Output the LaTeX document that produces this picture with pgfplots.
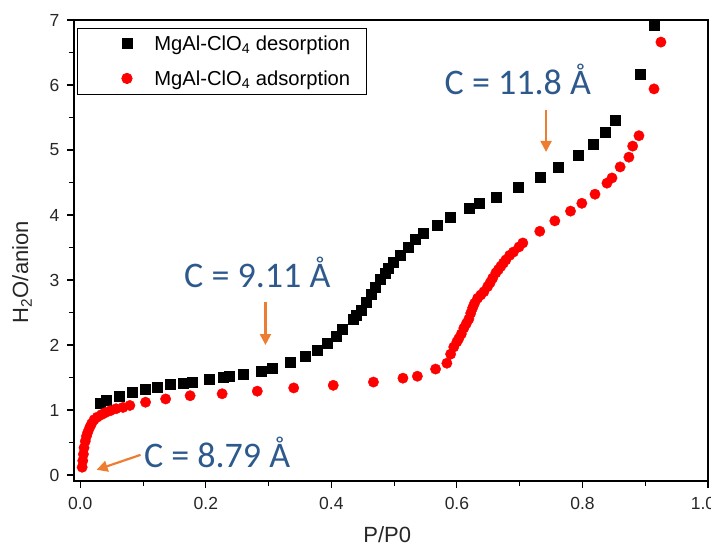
\documentclass[border=0pt]{standalone}
\usepackage{fontspec}
\setmainfont{Liberation Sans}
\newfontfamily\calib{Carlito}
\usepackage{pgfplots}
\pgfplotsset{compat=1.18}
\usetikzlibrary{arrows.meta}
\definecolor{annblue}{RGB}{46,89,140}
\definecolor{annorange}{RGB}{237,125,49}
\begin{document}
\begin{tikzpicture}
\useasboundingbox (-74pt,-68pt) rectangle (637pt,481pt);
\begin{axis}[
  scale only axis, width=634pt, height=461pt,
  at={(0pt,0pt)}, anchor=south west,
  xmin=-0.01, xmax=1.0, ymin=-0.092, ymax=7,
  xtick={0,0.2,0.4,0.6,0.8,1.0}, minor x tick num=1,
  xticklabels={0.0,0.2,0.4,0.6,0.8,{\kern-10pt 1.0}},
  ytick={0,1,2,3,4,5,6,7}, minor y tick num=1,
  tick pos=left, tick align=outside,
  major tick length=7pt, minor tick length=5pt,
  every tick/.style={black, line width=1.1pt},
  axis line style={line width=1.2pt},
  /pgf/number format/assume math mode=true,
  ticklabel style={font=\fontsize{17.5}{21}\selectfont, color=black!85},
  xticklabel style={yshift=-6pt},
  yticklabel style={xshift=-4pt},
  xlabel={P/P0}, ylabel={H\textsubscript{2}O/anion},
  every axis x label/.style={at={(axis description cs:0.494,-0.117)}, anchor=center, font=\fontsize{22}{26}\selectfont, color=black!85},
  every axis y label/.style={at={(axis description cs:-0.082,0.453)}, anchor=center, rotate=90, font=\fontsize{22}{26}\selectfont, color=black!85},
  legend style={at={(axis description cs:0.005,0.983)}, anchor=north west,
    font=\fontsize{20.2}{24}\selectfont, draw=black, line width=0.8pt,
    inner xsep=2pt, inner ysep=5.5pt, row sep=14.5pt, cells={anchor=west}},
  legend image code/.code={\path (0pt,0pt) (72pt,0pt); \draw[#1] plot coordinates {(47pt,0pt)};},
  clip=false,
]
\addplot[only marks, mark=square*, mark size=5pt, color=black] coordinates {
(0.032,1.11) (0.041,1.15) (0.062,1.22) (0.083,1.28) (0.104,1.32) (0.123,1.35)
(0.144,1.40) (0.164,1.42) (0.179,1.43) (0.206,1.48) (0.228,1.51) (0.238,1.52)
(0.260,1.55) (0.289,1.60) (0.306,1.65) (0.335,1.74) (0.359,1.83) (0.378,1.92)
(0.394,2.03) (0.407,2.14) (0.418,2.25) (0.434,2.40) (0.440,2.46) (0.447,2.54)
(0.455,2.66) (0.463,2.78) (0.470,2.89) (0.478,3.02) (0.485,3.11) (0.491,3.18)
(0.499,3.28) (0.509,3.38) (0.522,3.51) (0.533,3.63) (0.547,3.72) (0.569,3.85)
(0.590,3.97) (0.619,4.11) (0.636,4.18) (0.662,4.28) (0.697,4.43) (0.732,4.58)
(0.762,4.74) (0.793,4.92) (0.817,5.09) (0.836,5.28) (0.852,5.46) (0.892,6.17)
(0.914,6.92)
};
\addlegendentry{MgAl-ClO\textsubscript{4} desorption\rule{12pt}{0pt}}
\addplot[only marks, mark=*, mark size=5.2pt, color=red] coordinates {
(0.003,0.12) (0.004,0.22) (0.005,0.32) (0.006,0.42) (0.008,0.52) (0.010,0.60)
(0.012,0.66) (0.015,0.73) (0.018,0.79) (0.022,0.85) (0.027,0.89) (0.034,0.93)
(0.040,0.96) (0.048,0.99) (0.057,1.02) (0.068,1.04) (0.079,1.07) (0.104,1.12)
(0.136,1.17) (0.175,1.22) (0.226,1.25) (0.282,1.29) (0.340,1.34) (0.403,1.38)
(0.467,1.43) (0.514,1.49) (0.537,1.52) (0.566,1.63) (0.584,1.72) (0.590,1.86)
(0.595,1.97) (0.600,2.05) (0.603,2.10) (0.607,2.17) (0.611,2.26) (0.615,2.33)
(0.619,2.40) (0.622,2.49) (0.625,2.57) (0.628,2.64) (0.633,2.72) (0.638,2.77)
(0.643,2.82) (0.649,2.90) (0.653,2.96) (0.657,3.03) (0.662,3.11) (0.666,3.16)
(0.670,3.21) (0.674,3.26) (0.678,3.31) (0.684,3.38) (0.690,3.43) (0.699,3.51)
(0.705,3.57) (0.732,3.75) (0.756,3.91) (0.781,4.06) (0.799,4.18) (0.820,4.32)
(0.839,4.49) (0.847,4.57) (0.860,4.74) (0.874,4.89) (0.880,5.06) (0.890,5.22)
(0.914,5.94) (0.925,6.66)
};
\addlegendentry{MgAl-ClO\textsubscript{4} adsorption}
\node[font=\calib\fontsize{36}{40}\selectfont, text=annblue] at (axis cs:0.697,6.08) {C = 11.8 Å};
\node[font=\calib\fontsize{36}{40}\selectfont, text=annblue] at (axis cs:0.282,3.12) {C = 9.11 Å};
\node[font=\calib\fontsize{36}{40}\selectfont, text=annblue] at (axis cs:0.218,0.35) {C = 8.79 Å};
\draw[annorange, line width=2.2pt, -{Triangle[length=11pt,width=11pt]}] (axis cs:0.742,5.62) -- (axis cs:0.742,4.97);
\draw[annorange, line width=2.2pt, -{Triangle[length=11pt,width=11pt]}] (axis cs:0.295,2.66) -- (axis cs:0.295,2.00);
\draw[annorange, line width=2.2pt, -{Triangle[length=11pt,width=11pt]}] (axis cs:0.096,0.31) -- (axis cs:0.026,0.08);
\end{axis}
\end{tikzpicture}
\end{document}
